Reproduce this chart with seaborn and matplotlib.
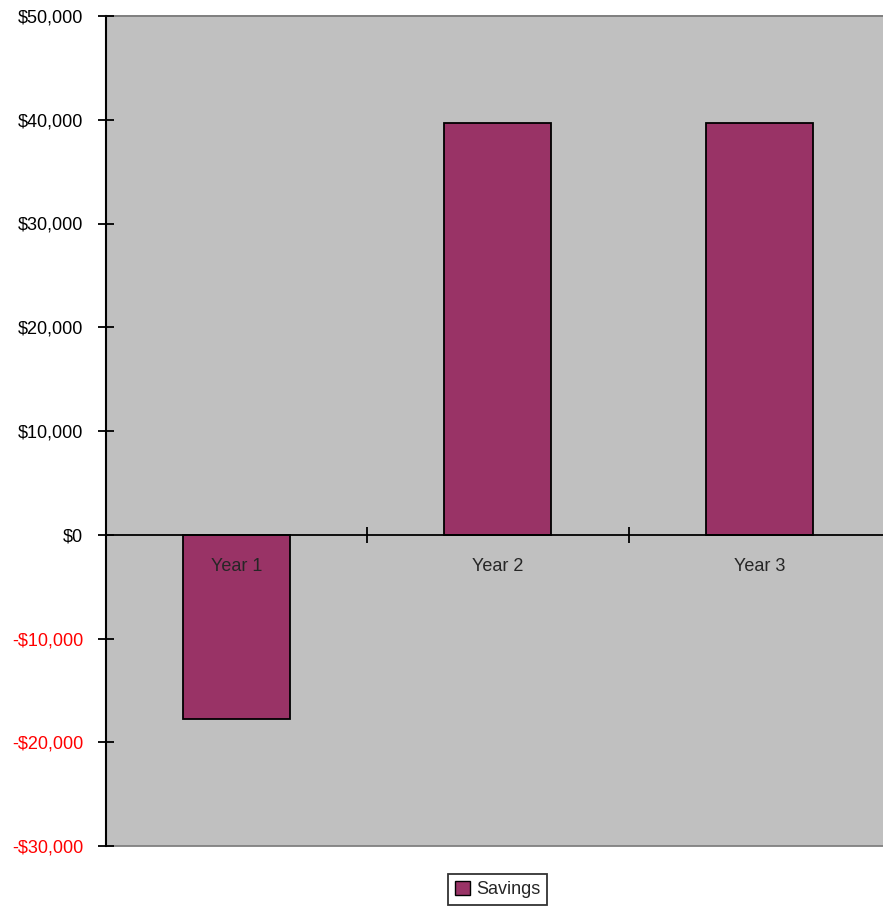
import matplotlib
matplotlib.use("Agg")
import matplotlib.pyplot as plt
from matplotlib.patches import Patch
from matplotlib.ticker import FixedLocator, FuncFormatter
import seaborn as sns
import pandas as pd

# Savings per year
years = ["Year 1", "Year 2", "Year 3"]
savings = [-17750, 39700, 39700]
series_name = "Savings"
y_ticks = [-30000, -20000, -10000, 0, 10000, 20000, 30000, 40000, 50000]

sns.set_style("white")
plt.rcParams["font.family"] = ["Liberation Sans", "DejaVu Sans"]

df = pd.DataFrame({"Year": years, "Savings": savings})

fig = plt.figure(figsize=(8.83, 9.08), dpi=100)
fig.patch.set_facecolor("white")
ax = fig.add_axes([105.5 / 883, 62 / 908, 784.5 / 883, 830 / 908])
ax.set_facecolor("#C0C0C0")

sns.barplot(data=df, x="Year", y="Savings", color="#993366", saturation=1,
            edgecolor="black", linewidth=1.3, width=0.41, ax=ax)

# axis lines and category labels drawn over the bars
ax.set_axisbelow(False)

ax.set_xlim(-0.5, len(years) - 0.5)
ax.set_ylim(y_ticks[0], y_ticks[-1])
ax.set_xlabel("")
ax.set_ylabel("")

# y axis: dollar labels, negatives in red
ax.yaxis.set_major_locator(FixedLocator(y_ticks))
ax.yaxis.set_major_formatter(FuncFormatter(
    lambda v, p: f"-${abs(v):,.0f}" if v < 0 else f"${v:,.0f}"))
ax.tick_params(axis="y", direction="inout", length=12, width=1.3,
               color="black", labelsize=13, pad=10, left=True)
for lbl, v in zip(ax.get_yticklabels(), y_ticks):
    lbl.set_color("#FF0000" if v < 0 else "black")

# x axis sits on the zero line; boundary ticks between categories
ax.spines["bottom"].set_position(("data", 0))
ax.spines["bottom"].set_color("black")
ax.spines["bottom"].set_linewidth(1.3)
ax.xaxis.set_minor_locator(FixedLocator([0.5, 1.5]))
ax.tick_params(axis="x", which="minor", direction="inout", length=12,
               width=1.3, color="black", bottom=True)
ax.tick_params(axis="x", which="major", length=0, labelsize=13, pad=17,
               bottom=True)

ax.spines["left"].set_color("black")
ax.spines["left"].set_linewidth(1.5)
for s in ("top", "right"):
    ax.spines[s].set_color("#808080")
    ax.spines[s].set_linewidth(1.3)

# plot-area frame along the bottom edge
ax.patch.set_edgecolor("#808080")
ax.patch.set_linewidth(1.3)

handle = Patch(facecolor="#993366", edgecolor="black", linewidth=1.0)
leg = ax.legend([handle], [series_name], loc="upper center",
                bbox_to_anchor=(0.5, -0.034), frameon=True, fancybox=False,
                shadow=False, fontsize=13, handlelength=0.8, handleheight=0.8,
                handletextpad=0.35, borderpad=0.38, borderaxespad=0)
leg.get_frame().set_edgecolor("black")
leg.get_frame().set_linewidth(1.3)

fig.savefig("out.png", dpi=100)
